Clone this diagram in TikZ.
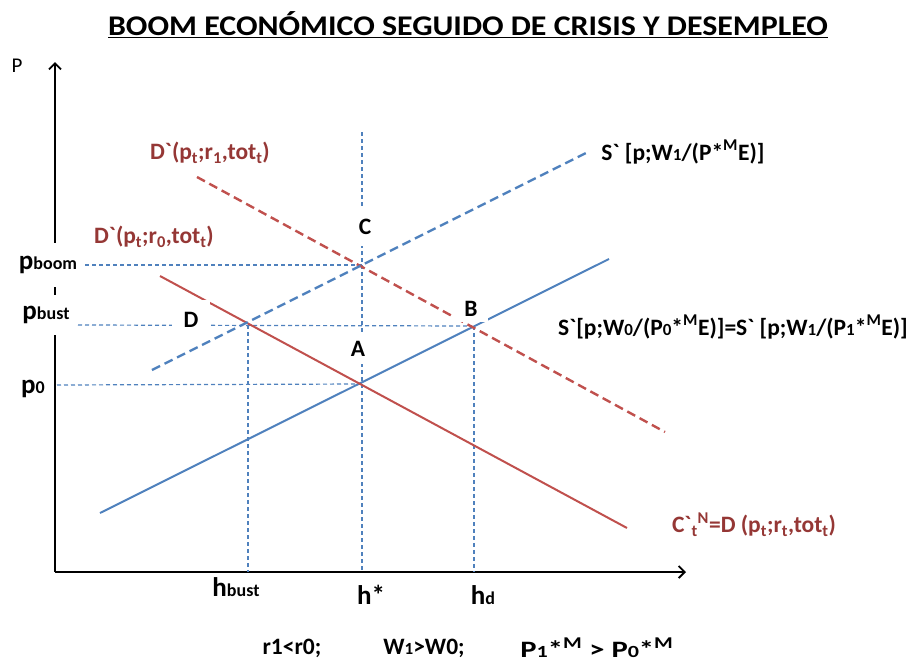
\documentclass[tikz,border=0pt]{standalone}
\usepackage{fontspec}
\newfontfamily\cf{Carlito}
\usetikzlibrary{arrows.meta}
\definecolor{sblue}{RGB}{79,129,189}
\definecolor{dred}{RGB}{192,80,77}
\definecolor{tred}{RGB}{149,55,53}
\newcommand\smd[1]{{\fontsize{17}{17}\selectfont #1}}
\newcommand\bigp[1]{{\fontsize{27}{27}\selectfont #1}}
\newcommand\lowt[1]{{\fontsize{18}{18}\selectfont #1}}
\newcommand\hstr[2]{\scalebox{#1}[1]{#2}}
\begin{document}
\begin{tikzpicture}[x=1pt,y=-1pt,
  lab/.style={font=\cf\bfseries\fontsize{23.5}{26}\selectfont, inner sep=1pt},
  redlab/.style={lab, text=tred},
  cover/.style={fill=white, inner sep=0pt},
  axis/.style={line width=1.9pt, -{Straight Barb[length=6pt,width=12pt,line width=1.9pt]}},
  sline/.style={line width=2pt, sblue},
  dline/.style={line width=2pt, dred},
  sdash/.style={line width=2.4pt, sblue, dash pattern=on 9pt off 5pt},
  ddash/.style={line width=2.4pt, dred, dash pattern=on 9pt off 5pt},
  guide/.style={line width=1.2pt, sblue, dash pattern=on 4pt off 3pt}]
\useasboundingbox (0,0) rectangle (914,664);
% key points
\coordinate (O) at (55,572);
\coordinate (Ytop) at (55,62);
\coordinate (Xend) at (686,572);
\coordinate (A) at (362,384);
\coordinate (B) at (472,326);
\coordinate (C) at (362,265);
\coordinate (D) at (248,325);
\coordinate (s0a) at (100,513);
\coordinate (s0b) at (609,259);
\coordinate (d0a) at (160,276);
\coordinate (d0b) at (627,528);
\coordinate (d1a) at (197,177);
\coordinate (d1b) at (665,432);
\coordinate (s1a) at (152,370);
\coordinate (s1b) at (588,152);
\coordinate (vtop) at (362,132);
\coordinate (hs) at (362,572);
\coordinate (hb) at (248,572);
\coordinate (hdd) at (474,572);
% axes
\draw[axis] (O) -- (Ytop);
\draw[axis] (O) -- (Xend);
% guides
\draw[guide] (vtop) -- (hs);
\draw[guide] (D) -- (hb);
\draw[guide] (B -| hdd) -- (hdd);
\draw[guide] (85,265) coordinate (g1) -- (C);
\draw[guide] (78,325) coordinate (g2) -- (B);
\draw[guide] (57,385) coordinate (g3) -- (A);
% curves
\draw[sline] (s0a) -- (s0b);
\draw[dline] (d0a) -- (d0b);
\draw[ddash] (d1a) -- (d1b);
\draw[sdash] (s1a) -- (s1b);
% covering labels
\node[lab, cover, minimum width=69pt, minimum height=44pt] (pboom) at (48,265) {\bigp{p}\lowt{boom}};
\node[lab, cover, minimum width=62pt, minimum height=40pt] (pbust) at (46,315) {\bigp{p}\lowt{bust}};
\node[lab, cover] (p0) at (33,389) {\bigp{p}\lowt{0}};
\node[lab, cover, minimum width=38pt, minimum height=40pt] (Dl) at (191,320) {D};
\node[lab, cover, minimum width=34pt, minimum height=25pt] (Bl) at (471,309) {B};
\node[lab, cover, minimum width=26pt, minimum height=38pt] (Cl) at (365,227) {C};
\node[lab, cover, minimum width=26pt, minimum height=30pt] (Al) at (358,349) {A};
% title
\node[font=\cf\bfseries\fontsize{28.5}{31}\selectfont, inner sep=0pt] (title) at (468,25) {\hstr{1.12}{\underline{BOOM ECONÓMICO SEGUIDO DE CRISIS Y DESEMPLEO}}};
\node[font=\cf\fontsize{21}{23}\selectfont, inner sep=0pt] (P) at (17,66) {P};
% curve labels
\node[redlab] (d1l) at (210,153) {D`(p\textsubscript{t};r\textsubscript{1},tot\textsubscript{t})};
\node[redlab] (d0l) at (154,237) {D`(p\textsubscript{t};r\textsubscript{0},tot\textsubscript{t})};
\node[redlab] (cl) at (754,525) {C`\textsubscript{t}\textsuperscript{N}=D (p\textsubscript{t};r\textsubscript{t},tot\textsubscript{t})};
\node[lab] (s1l) at (683,152) {S` [p;W\smd{1}/(P*\textsuperscript{M}E)]};
\node[lab] (s0l) at (733,327) {S`[p;W\smd{0}/(P\smd{0}*\textsuperscript{M}E)]=S` [p;W\smd{1}/(P\smd{1}*\textsuperscript{M}E)]};
% axis labels
\node[lab] (hbust) at (236,587) {\bigp{h}\lowt{bust}};
\node[lab] (hstar) at (371,595) {\bigp{h*}};
\node[lab] (hd) at (483,595) {\bigp{h}\lowt{d}};
% bottom
\node[lab] (n1) at (292,648) {r1<r0;};
\node[lab] (n2) at (424,648) {W\smd{1}>W0;};
\node[lab] (n3) at (597,648) {\hstr{1.3}{P\smd{1}*\textsuperscript{M} > P\smd{0}*\textsuperscript{M}}};
\end{tikzpicture}
\end{document}
